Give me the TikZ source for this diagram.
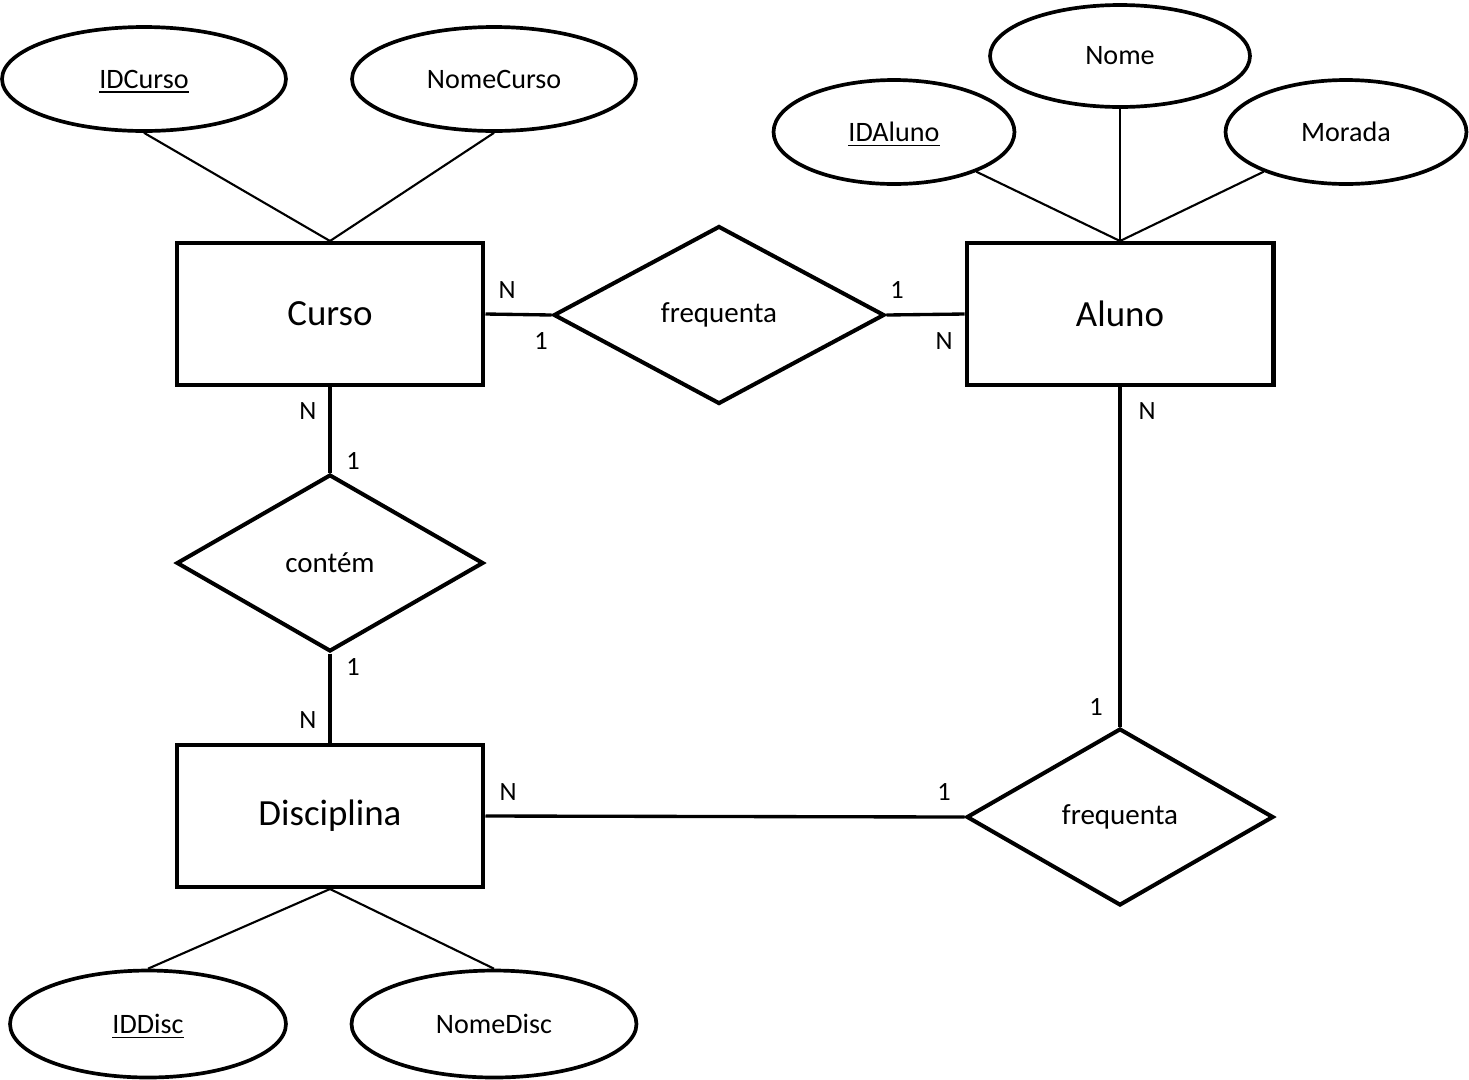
\documentclass[tikz,border=0pt]{standalone}
\usepackage{fontspec}
\setmainfont{Carlito}
\usetikzlibrary{shapes.geometric}
% underline that leaves the box depth unchanged
\newcommand{\keyattr}[1]{{\setbox0\hbox{#1}\rlap{\smash{\rule[-0.16em]{\wd0}{0.05em}}}\box0}}
\begin{document}
\begin{tikzpicture}[x=0.02cm,y=-0.02cm,
  entity/.style={draw,line width=2.3pt,rectangle,minimum width=6.14cm,minimum height=2.84cm,inner sep=0pt,font=\fontsize{21}{25}\selectfont},
  attr/.style={draw,line width=2.1pt,ellipse,minimum width=5.68cm,minimum height=2.08cm,inner sep=0pt,font=\fontsize{16}{19}\selectfont},
  rel/.style={draw,line width=2.3pt,diamond,minimum width=6.14cm,minimum height=3.54cm,inner sep=0pt,font=\fontsize{16.5}{19}\selectfont},
  link/.style={line width=1.9pt},
  alink/.style={line width=1.2pt},
  card/.style={font=\fontsize{15}{18}\selectfont,inner sep=0pt}]
  \fill[white] (0,0) rectangle (1469,1079);

  % entities
  \node[entity] (curso) at (330,314) {Curso};
  \node[entity] (aluno) at (1120,314) {Aluno};
  \node[entity] (disc) at (330,816) {Disciplina};

  % relationships
  \node[rel,minimum width=6.62cm,minimum height=3.56cm] (freqA) at (719,315) {frequenta};
  \node[rel] (contem) at (330,563) {contém};
  \node[rel] (freqB) at (1120,817) {frequenta};

  % attributes
  \node[attr] (idcurso) at (144,79) {\keyattr{IDCurso}};
  \node[attr] (nomecurso) at (494,79) {NomeCurso};
  \node[attr,minimum width=5.2cm,minimum height=2.04cm] (nome) at (1120,56) {Nome};
  \node[attr,minimum width=4.82cm] (idaluno) at (894,132) {\keyattr{IDAluno}};
  \node[attr,minimum width=4.82cm] (morada) at (1346,132) {Morada};
  \node[attr,minimum width=5.52cm,minimum height=2.14cm] (iddisc) at (148,1024) {\keyattr{IDDisc}};
  \node[attr,minimum width=5.7cm,minimum height=2.14cm] (nomedisc) at (494,1024) {NomeDisc};

  % attribute links
  \draw[alink] (idcurso.south) -- (curso.north);
  \draw[alink] (nomecurso.south) -- (curso.north);
  \draw[alink] (idaluno) -- (aluno.north);
  \draw[alink] (nome.south) -- (aluno.north);
  \draw[alink] (morada) -- (aluno.north);
  \draw[alink] (disc.south) -- (iddisc.north);
  \draw[alink] (disc.south) -- (nomedisc.north);

  % relationship links
  \draw[link] (curso.east) -- (freqA.west);
  \draw[link] (freqA.east) -- (aluno.west);
  \draw[link] (curso.south) -- (contem.north);
  \draw[link] (contem.south) -- (disc.north);
  \draw[link] (aluno.south) -- (freqB.north);
  \draw[link] (disc.east) -- (freqB.west);

  % cardinalities
  \node[card] (c1) at (507,290) {N};
  \node[card] (c2) at (541,341) {1};
  \node[card] (c3) at (897,290) {1};
  \node[card] (c4) at (944,341) {N};
  \node[card] (c5) at (308,411) {N};
  \node[card] (c6) at (353,461) {1};
  \node[card] (c7) at (353,667) {1};
  \node[card] (c8) at (308,720) {N};
  \node[card] (c9) at (1147,411) {N};
  \node[card] (c10) at (1096,707) {1};
  \node[card] (c11) at (508,792) {N};
  \node[card] (c12) at (944,792) {1};
\end{tikzpicture}
\end{document}
